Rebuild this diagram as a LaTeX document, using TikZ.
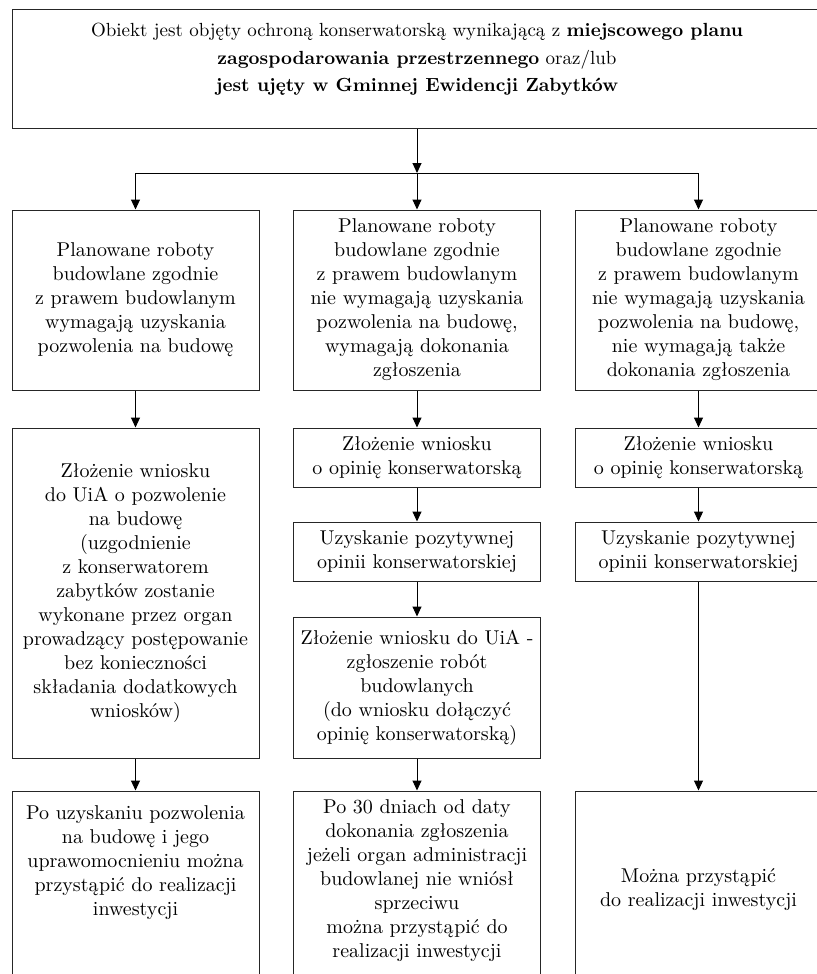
\documentclass[tikz,border=0pt]{standalone}
\usepackage{fontspec}
\usepackage{tikz}
\usetikzlibrary{arrows.meta}

\begin{document}
\begin{tikzpicture}[x=0.5pt, y=-0.5pt,
  box/.style={draw=black!85, line width=0.5pt, align=center, inner sep=2pt,
    font=\fontsize{10}{12}\selectfont, minimum width=123.5pt},
  >={Triangle[length=5pt, width=4.5pt]}, line width=0.5pt]
\useasboundingbox (0,0) rectangle (817,974);
\clip (0,0) rectangle (817,974);
\node[box, minimum width=405pt, minimum height=59.5pt, font=\fontsize{9.5}{13.75}\selectfont, text depth=12pt] (obiekt) at (417,69.5)
  {Obiekt jest objęty ochroną konserwatorską wynikającą z \textbf{miejscowego planu}\\
   \textbf{zagospodarowania przestrzennego} oraz/lub\\
   \textbf{jest ujęty w Gminnej Ewidencji Zabytków}};
\coordinate (split) at (417,173);

\node[box, minimum height=90pt] (pozw) at (135.5,300) {Planowane roboty\\budowlane zgodnie\\z prawem budowlanym\\wymagają uzyskania\\pozwolenia na budowę};
\node[box, minimum height=90pt] (zgl) at (417,300) {Planowane roboty\\budowlane zgodnie\\z prawem budowlanym\\nie wymagają uzyskania\\pozwolenia na budowę,\\wymagają dokonania\\zgłoszenia};
\node[box, minimum height=90pt] (bez) at (698.5,300) {Planowane roboty\\budowlane zgodnie\\z prawem budowlanym\\nie wymagają uzyskania\\pozwolenia na budowę,\\nie wymagają także\\dokonania zgłoszenia};

\node[box, minimum height=165pt] (pozw-wniosek) at (135.5,593) {Złożenie wniosku\\do UiA o pozwolenie\\na budowę\\(uzgodnienie\\z konserwatorem\\zabytków zostanie\\wykonane przez organ\\prowadzący postępowanie\\bez konieczności\\składania dodatkowych\\wniosków)};
\node[box, minimum height=29.5pt] (zgl-wniosek) at (417,457.5) {Złożenie wniosku\\o opinię konserwatorską};
\node[box, minimum height=29.5pt] (zgl-opinia) at (417,551.5) {Uzyskanie pozytywnej\\opinii konserwatorskiej};
\node[box, minimum height=70.5pt] (zgl-UiA) at (417,687.5) {Złożenie wniosku do UiA -\\zgłoszenie robót\\budowlanych\\(do wniosku dołączyć\\opinię konserwatorską)};
\node[box, minimum height=29.5pt] (bez-wniosek) at (698.5,457.5) {Złożenie wniosku\\o opinię konserwatorską};
\node[box, minimum height=29.5pt] (bez-opinia) at (698.5,551.5) {Uzyskanie pozytywnej\\opinii konserwatorskiej};

\node[box, minimum height=110pt, text depth=40pt] (pozw-koniec) at (135.5,901) {Po uzyskaniu pozwolenia\\na budowę i jego\\uprawomocnieniu można\\przystąpić do realizacji\\inwestycji};
\node[box, minimum height=110pt, text depth=22pt] (zgl-koniec) at (417,901) {Po 30 dniach od daty\\dokonania zgłoszenia\\jeżeli organ administracji\\budowlanej nie wniósł\\sprzeciwu\\można przystąpić do\\realizacji inwestycji};
\node[box, minimum height=110pt, text depth=13pt] (bez-koniec) at (698.5,901) {Można przystąpić\\do realizacji inwestycji};

\draw[->] (obiekt) -- (split);
\draw[->] (split) -| (pozw);
\draw[->] (split) -- (zgl);
\draw[->] (split) -| (bez);
\draw[->] (pozw) -- (pozw-wniosek);
\draw[->] (pozw-wniosek) -- (pozw-koniec);
\draw[->] (zgl) -- (zgl-wniosek);
\draw[->] (zgl-wniosek) -- (zgl-opinia);
\draw[->] (zgl-opinia) -- (zgl-UiA);
\draw[->] (zgl-UiA) -- (zgl-koniec);
\draw[->] (bez) -- (bez-wniosek);
\draw[->] (bez-wniosek) -- (bez-opinia);
\draw[->] (bez-opinia) -- (bez-koniec);
\end{tikzpicture}
\end{document}
